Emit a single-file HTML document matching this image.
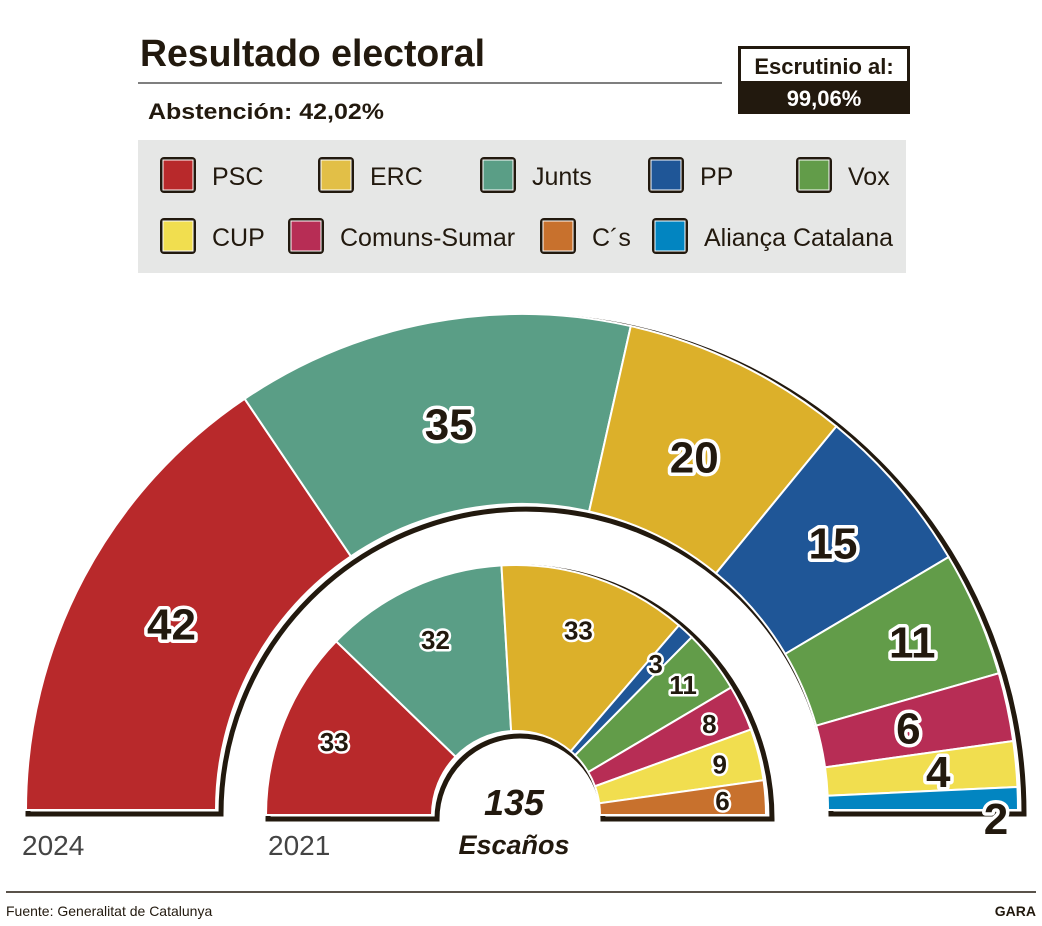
<!DOCTYPE html>
<html><head><meta charset="utf-8"><style>
body{margin:0;background:#fff;font-family:"Liberation Sans",sans-serif;}
svg text{font-family:"Liberation Sans",sans-serif;}
</style></head><body>
<svg width="1042" height="921" viewBox="0 0 1042 921">
<text x="140" y="66" font-size="38" font-weight="bold" fill="#22190e" textLength="345" lengthAdjust="spacingAndGlyphs">Resultado electoral</text>
<line x1="138" y1="83" x2="722" y2="83" stroke="#555" stroke-width="1.5"/>
<text x="148" y="119" font-size="22" font-weight="bold" fill="#22190e" textLength="236" lengthAdjust="spacingAndGlyphs">Abstención: 42,02%</text>
<g>
<rect x="738" y="46" width="172" height="68" fill="#22190e"/>
<rect x="741" y="49" width="166" height="32" fill="#fff"/>
<text x="824" y="74" font-size="22" font-weight="bold" text-anchor="middle" fill="#22190e">Escrutinio al:</text>
<text x="824" y="106" font-size="22" font-weight="bold" text-anchor="middle" fill="#fff">99,06%</text>
</g>
<rect x="138" y="140" width="768" height="133" fill="#e6e7e6"/>
<g id="legend"></g>
<g id="chart"></g>
<text x="22" y="855" font-size="28" fill="#444">2024</text>
<text x="268" y="855" font-size="28" fill="#444">2021</text>
<text x="514" y="815" font-size="36" font-weight="bold" font-style="italic" text-anchor="middle" fill="#22190e">135</text>
<text x="514" y="854" font-size="27" font-weight="bold" font-style="italic" text-anchor="middle" fill="#22190e">Escaños</text>
<line x1="6" y1="892" x2="1036" y2="892" stroke="#22190e" stroke-width="1.5"/>
<text x="6" y="916" font-size="14" fill="#22190e">Fuente: Generalitat de Catalunya</text>
<text x="1036" y="916" font-size="14" font-weight="bold" text-anchor="end" fill="#22190e">GARA</text>
</svg>
<script>
const legendNames=["PSC","ERC","Junts","PP","Vox","CUP","Comuns-Sumar","C´s","Aliança Catalana"];
const legendColors=["#b8292b","#e2bf47","#5a9e86","#1f5697","#629c49","#f1de4f","#b72d55","#c8712d","#0285c1"];
const parties2024=["PSC","Junts","ERC","PP","Vox","Comuns-Sumar","CUP","Aliança Catalana"];
const seats2024=[42,35,20,15,11,6,4,2];
const parties2021=["PSC","Junts","ERC","PP","Vox","Comuns-Sumar","CUP","C´s"];
const seats2021=[33,32,33,3,11,8,9,6];
const colorOf={"PSC":"#b8292b","Junts":"#5a9e86","ERC":"#dcb02a","PP":"#1f5697","Vox":"#629c49","Comuns-Sumar":"#b72d55","CUP":"#f1de4f","C´s":"#c8712d","Aliança Catalana":"#0285c1"};
const NS="http://www.w3.org/2000/svg";
function mk(t,a,p){const e=document.createElementNS(NS,t);for(const k in a)e.setAttribute(k,a[k]);p.appendChild(e);return e;}
const lg=document.getElementById('legend');
const lx=[160,318,480,648,796,160,288,540,652];
legendNames.forEach((n,i)=>{
 const r=i<5?0:1;const x=lx[i],y=157+r*61;
 const g=mk('g',{},lg);
 
 
 mk('rect',{x:x,y:y,width:36,height:36,rx:4,fill:'#22190e'},g);
 mk('rect',{x:x+3,y:y+3,width:30,height:30,fill:legendColors[i],stroke:'#fff','stroke-width':1},g);
 const t=mk('text',{x:x+52,y:y+28,'font-size':25,fill:'#22190e'},g);t.textContent=n;
});
const ch=document.getElementById('chart');
function arc(cx,cy,r0,r1,a0,a1){
 const p=(r,a)=>[cx+r*Math.cos(a),cy-r*Math.sin(a)];
 const [x1,y1]=p(r1,a0),[x2,y2]=p(r1,a1),[x3,y3]=p(r0,a1),[x4,y4]=p(r0,a0);
 return `M${x1},${y1}A${r1},${r1} 0 0 1 ${x2},${y2}L${x3},${y3}A${r0},${r0} 0 0 0 ${x4},${y4}Z`;
}
function ring(parties,seats,cx,cy,r0,r1,fs,name,labR,special){
 const total=seats.reduce((a,b)=>a+b,0);
 const sh=mk('path',{d:arc(cx+4,cy+4,r0-1,r1+2,Math.PI,0),fill:'none',stroke:'#22190e','stroke-width':5},ch);
 
 
 mk('path',{d:arc(cx,cy,r0,r1,Math.PI,0),fill:'#fff'},ch);
 let acc=0;
 seats.forEach((s,i)=>{
  const a0=Math.PI*(1-acc/total),a1=Math.PI*(1-(acc+s)/total);acc+=s;
  const p=mk('path',{d:arc(cx,cy,r0,r1,a0,a1),fill:colorOf[parties[i]],stroke:'#fff','stroke-width':2},ch);
  
  
 });
 acc=0;
 seats.forEach((s,i)=>{
  const am=Math.PI*(1-(acc+s/2)/total);acc+=s;
  const r=labR[i];
  let x=cx+r*Math.cos(am),y=cy-r*Math.sin(am)+fs*0.36;
  if(special&&i===seats.length-1){x=cx+r1-22;y=cy+24;}
  const t=mk('text',{x:x,y:y,'font-size':fs,'font-weight':'bold','text-anchor':'middle',fill:'#22190e',stroke:'#fff','stroke-width':fs>30?7:5,'stroke-linejoin':'round','paint-order':'stroke'},ch);
  
  
  t.textContent=s;
 });
}
ring(parties2024,seats2024,522,810,306,496,44,'ring-2024',[397,393,393,410,425,395,418,483],true);
ring(parties2021,seats2021,516,815,84,250,26,'ring-2021',[196,193,195,206,212,214,210,207],false);
</script>
</body></html>
